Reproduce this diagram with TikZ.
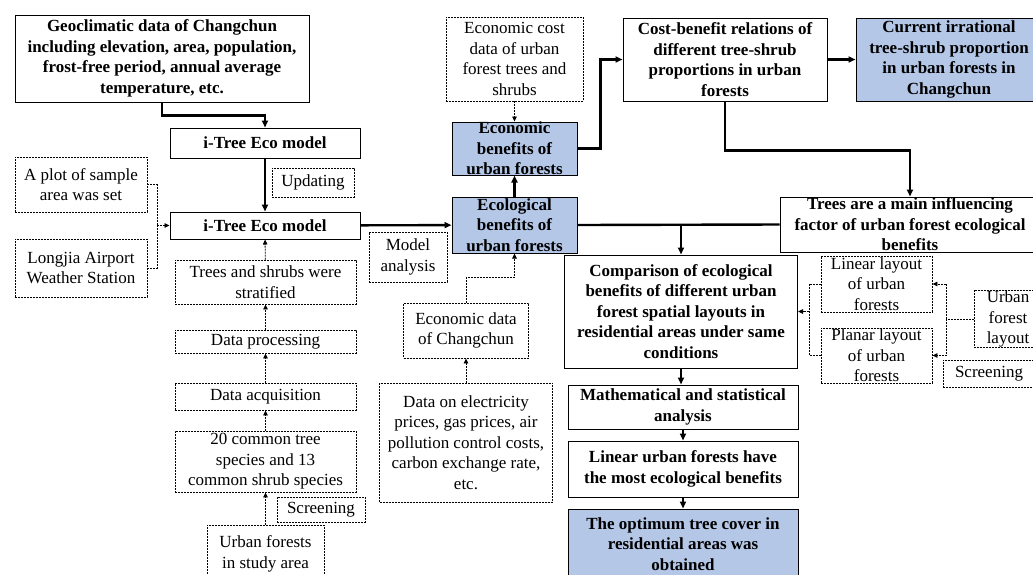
\documentclass[tikz,border=0pt]{standalone}
\usepackage{fontspec}
\setmainfont{Liberation Serif}
\usepackage{tikz}
\usetikzlibrary{arrows.meta}
\definecolor{paleblue}{RGB}{180,199,231}

\begin{document}
\begin{tikzpicture}[
x=1pt,y=-1pt,
font=\fontsize{17}{20.5}\selectfont,
box/.style={draw,line width=1pt,align=center,inner sep=0pt,font=\fontsize{17}{20.5}\selectfont\bfseries},
bbox/.style={box,fill=paleblue},
dbox/.style={draw,line width=0.9pt,dash pattern=on 2pt off 1pt,align=center,inner sep=0pt},
arr/.style={-{Triangle[length=7pt,width=6pt]},line width=2.4pt},
link/.style={line width=2.4pt},
darr/.style={-{Triangle[length=5pt,width=4.5pt]},line width=0.9pt,dash pattern=on 2pt off 1pt},
dlink/.style={line width=0.9pt,dash pattern=on 2pt off 1pt}
]
\useasboundingbox (0,0) rectangle (1033,574);
\clip (0,0) rectangle (1033,574);

% left column
\node[box,minimum width=294pt,minimum height=87pt] (geo) at (162,58.5) {Geoclimatic data of Changchun\\including elevation, area, population,\\frost-free period, annual average\\temperature, etc.};
\node[box,minimum width=190pt,minimum height=30pt] (itreeA) at (265,143) {i-Tree Eco model};
\node[dbox,minimum width=82pt,minimum height=29pt] (upd) at (313,182.5) {Updating};
\node[dbox,minimum width=132pt,minimum height=55pt] (plot) at (81,184.5) {A plot of sample\\area was set};
\node[dbox,minimum width=132pt,minimum height=58pt] (airport) at (81,268) {Longjia Airport\\Weather Station};
\node[box,minimum width=190pt,minimum height=27pt] (itreeB) at (265,225.5) {i-Tree Eco model};
\node[dbox,minimum width=181pt,minimum height=44pt] (strat) at (265.5,282) {Trees and shrubs were\\stratified};
\node[dbox,minimum width=181pt,minimum height=23pt] (proc) at (265.5,341.5) {Data processing};
\node[dbox,minimum width=181pt,minimum height=27pt] (acq) at (265.5,396.5) {Data acquisition};
\node[dbox,minimum width=181pt,minimum height=61pt] (species) at (265.5,461.5) {20 common tree\\species and 13\\common shrub species};
\node[dbox,minimum width=88pt,minimum height=25pt] (screenA) at (321,509.5) {Screening};
\node[dbox,minimum width=117pt,minimum height=58pt] (study) at (265.5,554) {Urban forests\\in study area};

% middle column
\node[dbox,minimum width=78pt,minimum height=50pt] (model) at (408,257) {Model\\analysis};
\node[dbox,minimum width=137pt,minimum height=84pt] (cost) at (514.5,59) {Economic cost\\data of urban\\forest trees and\\shrubs};
\node[bbox,minimum width=125pt,minimum height=53pt] (econ) at (514.5,148.5) {Economic\\benefits of\\urban forests};
\node[bbox,minimum width=125pt,minimum height=56pt] (eco) at (514.5,225) {Ecological\\benefits of\\urban forests};
\node[dbox,minimum width=125pt,minimum height=55pt] (ecodata) at (466,330.5) {Economic data\\of Changchun};
\node[dbox,minimum width=173pt,minimum height=119pt] (prices) at (466,442.5) {Data on electricity\\prices, gas prices, air\\pollution control costs,\\carbon exchange rate,\\etc.};

% right part
\node[box,minimum width=204pt,minimum height=83pt] (costben) at (725,59.5) {Cost-benefit relations of\\different tree-shrub\\proportions in urban\\forests};
\node[bbox,minimum width=186pt,minimum height=83pt] (current) at (949,59.5) {Current irrational\\tree-shrub proportion\\in urban forests in\\Changchun};
\node[box,minimum width=260pt,minimum height=55pt] (trees) at (910,224.5) {Trees are a main influencing\\factor of urban forest ecological\\benefits};
\node[box,minimum width=233pt,minimum height=113pt] (comp) at (681,311.5) {Comparison of ecological\\benefits of different urban\\forest spatial layouts in\\residential areas under same\\conditions};
\node[dbox,minimum width=111pt,minimum height=56pt] (linlay) at (876.5,284) {Linear layout\\of urban\\forests};
\node[dbox,minimum width=111pt,minimum height=55pt] (planlay) at (876.5,355.5) {Planar layout\\of urban\\forests};
\node[dbox,minimum width=68pt,minimum height=56pt] (ufl) at (1008,319) {Urban\\forest\\layout};
\node[dbox,minimum width=92pt,minimum height=27pt] (screenB) at (989,373.5) {Screening};
\node[box,minimum width=230pt,minimum height=44pt] (math) at (683,407) {Mathematical and statistical\\analysis};
\node[box,minimum width=230pt,minimum height=56pt] (linear) at (683,469) {Linear urban forests have\\the most ecological benefits};
\node[bbox,minimum width=230pt,minimum height=70pt] (optimum) at (683,544) {The optimum tree cover in\\residential areas was\\obtained};

\coordinate (jleft) at (157,225.5);
\coordinate (jright) at (809,311.5);
\coordinate (split) at (comp.north |- eco.east);

% connectors
\draw[arr] (geo.south) -- ++(0,13) -| (itreeA.north);
\draw[arr] (itreeA) -- (itreeB);
\draw[dlink] (plot.east) -| (jleft);
\draw[dlink] (airport.east) -| (jleft);
\draw[darr] (jleft) -- (itreeB.west);
\draw[darr] (strat) -- (itreeB);
\draw[darr] (proc) -- (strat);
\draw[darr] (acq) -- (proc);
\draw[darr] (species) -- (acq);
\draw[darr] (study) -- (species);
\draw[arr] (itreeB) -- (eco);
\draw[arr] (eco) -- (econ);
\draw[darr] (cost) -- (econ);
\draw[arr] (econ.east) -- ++(23,0) |- (costben.west);
\draw[arr] (costben) -- (current);
\draw[arr] (costben.south) -- ++(0,49) -| (trees.north);
\draw[link] (eco.east) -- (trees.west);
\draw[arr] (split) -- (comp.north);
\draw[darr] (ecodata.north) -- ++(0,-25) -| (eco.south);
\draw[darr] (prices) -- (ecodata);
\draw[darr] (ufl.west) -- ++(-27,0) |- (linlay.east);
\draw[darr] (ufl.west) -- ++(-27,0) |- (planlay.east);
\draw[dlink] (linlay.west) -| (jright);
\draw[dlink] (planlay.west) -| (jright);
\draw[darr] (jright) -- (comp.east);
\draw[arr] (comp.south) -- (comp.south |- math.north);
\draw[arr] (math.south) -- (math.south |- linear.north);
\draw[arr] (linear.south) -- (linear.south |- optimum.north);
\end{tikzpicture}
\end{document}
